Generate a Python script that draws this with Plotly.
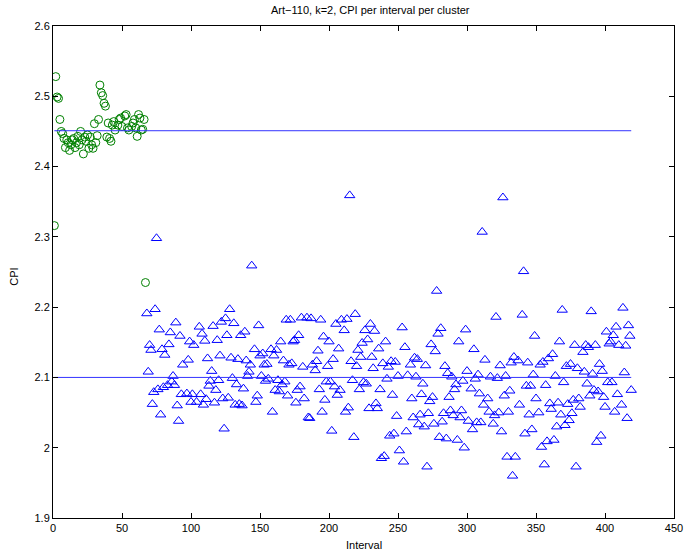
import plotly.graph_objects as go

# Cluster 1 (green circles): interval, CPI
green_interval = [1, 2, 3, 4, 5, 6, 7, 8, 9, 10, 11, 12, 13, 14, 15, 16, 17, 18, 19, 20,
                  21, 22, 23, 24, 25, 26, 27, 28, 29, 30, 31, 32, 33, 34, 35, 36, 37, 38, 39, 40,
                  41, 42, 43, 44, 45, 47, 48, 49, 50, 52, 53, 54, 55, 57, 58, 59, 60, 61, 62, 63,
                  64, 65, 66, 67]
green_cpi = [2.316, 2.528, 2.499, 2.497, 2.467, 2.450, 2.447, 2.440, 2.427, 2.438,
             2.434, 2.423, 2.431, 2.438, 2.440, 2.427, 2.434, 2.443, 2.431, 2.450,
             2.438, 2.418, 2.442, 2.436, 2.445, 2.426, 2.442, 2.431, 2.426, 2.461,
             2.434, 2.444, 2.467, 2.516, 2.505, 2.501, 2.490, 2.486, 2.442, 2.462,
             2.440, 2.436, 2.459, 2.464, 2.452, 2.459, 2.467, 2.469, 2.457, 2.472,
             2.474, 2.455, 2.452, 2.457, 2.462, 2.467, 2.455, 2.443, 2.474, 2.469,
             2.452, 2.453, 2.467, 2.235]

# Cluster 2 (blue triangles): interval, CPI
blue_interval = [
    68, 69, 70, 71, 72, 73, 74, 75, 76, 77, 78, 79, 80, 81, 83, 84, 85, 86, 87, 88,
    89, 90, 91, 92, 93, 94, 97, 98, 99, 100, 101, 102, 104, 106, 107, 108, 109, 110, 111, 112,
    113, 114, 115, 116, 117, 118, 119, 120, 121, 122, 123, 124, 125, 126, 127,
    128, 129, 130, 131, 132, 133, 134, 135, 136, 137, 138, 139, 140, 141, 142, 143, 144, 146, 147, 148,
    149, 150, 151, 152, 153, 154, 155, 156, 158, 159, 160, 161, 162, 163, 164, 165, 166, 167, 168, 169,
    170, 171, 172, 173, 174, 175, 176, 177, 178, 179, 180, 181, 182, 184, 185, 186, 187, 188,
    190, 191, 192, 193, 194, 195, 196, 197, 198, 199, 200, 201, 202, 203, 204, 205, 206, 207, 208, 209,
    211, 212, 213, 214, 215, 216, 217, 218, 219, 220, 221, 222, 223, 224, 225, 226, 227, 228, 229, 230,
    231, 232, 233, 234, 235, 236, 237, 238, 239, 240, 241, 242, 243, 244, 245, 246, 247, 248, 249, 250, 251,
    253, 254, 255, 256, 257, 259, 260, 261, 262, 263, 264, 265, 266, 267, 268, 269, 270, 271, 272, 273,
    274, 275, 276, 277, 278, 279, 280, 281, 282, 283, 284, 285, 286, 287, 288, 289, 290, 291, 292, 293,
    294, 295, 296, 297, 298, 299, 300, 301, 303, 304, 305, 306, 307, 308, 309, 310, 311, 312, 313,
    315, 316, 317, 319, 320, 321, 322, 323, 324, 325, 326, 327, 328, 329, 330, 331, 332, 333, 334, 335,
    337, 338, 340, 341, 342, 343, 344, 345, 346, 347, 348, 349, 350, 352, 353, 354, 355, 356, 357, 358,
    359, 360, 361, 362, 363, 364, 365, 366, 367, 368, 369, 370, 371, 372, 373,
    374, 375, 376, 377, 378, 379, 380, 381, 382, 384, 385, 386, 387, 388, 389, 390, 391, 392, 393, 394,
    395, 396, 397, 398, 399, 400, 401, 402, 403, 404, 405, 406, 407, 408, 409, 410, 412, 413, 414, 415,
    416, 417, 418, 419]
blue_cpi = [
    2.191, 2.108, 2.146, 2.139, 2.062, 2.079, 2.197, 2.298, 2.083, 2.168, 2.047, 2.140, 2.086, 2.132, 2.089, 2.147, 2.164, 2.094, 2.102, 2.089,
    2.178, 2.060, 2.038, 2.159, 2.076, 2.118, 2.077, 2.125, 2.151, 2.065, 2.076, 2.146, 2.065, 2.172, 2.076, 2.162, 2.061, 2.152, 2.069, 2.127,
    2.088, 2.095, 2.109, 2.173, 2.064, 2.082, 2.153, 2.096, 2.131, 2.179, 2.070, 2.027, 2.184, 2.160, 2.071,
    2.197, 2.128, 2.099, 2.177, 2.061, 2.090, 2.126, 2.062, 2.160, 2.060, 2.084, 2.165, 2.124, 2.102, 2.108, 2.118, 2.259, 2.140, 2.065, 2.074,
    2.174, 2.131, 2.102, 2.134, 2.118, 2.095, 2.119, 2.098, 2.140, 2.051, 2.131, 2.082, 2.139, 2.096, 2.080, 2.151, 2.090, 2.124, 2.094, 2.182,
    2.074, 2.118, 2.182, 2.120, 2.151, 2.153, 2.064, 2.082, 2.160, 2.087, 2.185, 2.115, 2.070, 2.185, 2.043, 2.042, 2.184, 2.118,
    2.110, 2.123, 2.138, 2.083, 2.182, 2.051, 2.158, 2.068, 2.094, 2.116, 2.151, 2.094, 2.024, 2.126, 2.087, 2.176, 2.075, 2.141, 2.082, 2.182,
    2.167, 2.051, 2.183, 2.057, 2.359, 2.123, 2.096, 2.015, 2.190, 2.116, 2.139, 2.083, 2.129, 2.149, 2.093, 2.167, 2.091, 2.154, 2.056, 2.176,
    2.129, 2.113, 2.166, 2.063, 2.056, 2.141, 2.083, 1.985, 2.120, 1.988, 2.151, 2.098, 2.115, 2.017, 2.123, 2.075, 2.020, 2.122, 2.045, 2.102, 1.996,
    2.171, 1.980, 2.143, 2.023, 2.103, 2.118, 2.070, 2.043, 2.128, 2.101, 2.126, 2.033, 2.047, 2.076, 2.091, 2.030, 2.117, 1.973, 2.049, 2.066,
    2.147, 2.072, 2.034, 2.137, 2.223, 2.162, 2.015, 2.170, 2.037, 2.049, 2.116, 2.013, 2.106, 2.072, 2.053, 2.101, 2.046, 2.083, 2.090, 2.011,
    2.151, 2.043, 2.053, 2.095, 2.000, 2.168, 2.109, 2.038, 2.084, 2.026, 2.140, 2.098, 2.036, 2.104, 2.077, 2.036, 2.307, 2.061, 2.125,
    2.070, 2.051, 2.101, 2.034, 2.046, 2.186, 2.099, 2.050, 2.117, 2.023, 2.356, 2.074, 2.102, 1.987, 2.051, 2.081, 2.121, 1.960, 2.129, 1.987,
    2.124, 2.061, 2.189, 2.251, 2.020, 2.088, 2.121, 2.047, 2.088, 2.026, 2.104, 2.159, 2.070, 2.050, 2.118, 2.001, 2.122, 1.976, 2.089, 2.009,
    2.127, 2.063, 2.055, 2.133, 2.011, 2.102, 2.030, 2.064, 2.151, 2.047, 2.196, 2.093, 2.032, 2.116, 2.062,
    2.039, 2.119, 2.049, 2.068, 2.146, 1.973, 2.113, 2.070, 2.058, 2.136, 2.108, 2.146, 2.091, 2.143, 2.074, 2.194, 2.105, 2.082, 2.146, 2.008,
    2.080, 2.119, 2.017, 2.109, 2.072, 2.058, 2.165, 2.093, 2.148, 2.151, 2.093, 2.160, 2.051, 2.172, 2.076, 2.146, 2.061, 2.199, 2.107, 2.145,
    2.042, 2.174, 2.159, 2.082]

# Cluster centroids (horizontal lines spanning all intervals)
centroid_cpi = [2.451, 2.100]
line_span = [1, 419]

x_ticks = [0, 50, 100, 150, 200, 250, 300, 350, 400, 450]
y_ticks = [1.9, 2.0, 2.1, 2.2, 2.3, 2.4, 2.5, 2.6]
y_tick_text = ["1.9", "2", "2.1", "2.2", "2.3", "2.4", "2.5", "2.6"]

FONT = "Liberation Sans, Arial, Helvetica, sans-serif"
BLUE = "#0000FF"
LINE_BLUE = "#3333FF"
GREEN = "#008000"

fig = go.Figure()
fig.add_trace(go.Scatter(
    x=green_interval, y=green_cpi, mode="markers",
    marker=dict(symbol="circle-open", size=8, color=GREEN, line=dict(width=1, color=GREEN)),
    showlegend=False, hoverinfo="skip"))
fig.add_trace(go.Scatter(
    x=blue_interval, y=blue_cpi, mode="markers",
    marker=dict(symbol="triangle-up-open", size=9, color=BLUE, line=dict(width=1, color=BLUE)),
    showlegend=False, hoverinfo="skip"))
for c in centroid_cpi:
    fig.add_trace(go.Scatter(
        x=line_span, y=[c, c], mode="lines",
        line=dict(color=LINE_BLUE, width=1), showlegend=False, hoverinfo="skip"))

axis_common = dict(
    showgrid=False, zeroline=False, showline=True, linecolor="black", linewidth=1,
    mirror="allticks", ticks="inside", ticklen=5, tickwidth=1, tickcolor="black",
    automargin=False, showspikes=False,
    tickfont=dict(family=FONT, size=11, color="black"))

fig.update_xaxes(range=[0, 450], tickvals=x_ticks, ticktext=[str(t) for t in x_ticks], **axis_common)
fig.update_yaxes(range=[1.9, 2.6], tickvals=y_ticks, ticktext=y_tick_text, **axis_common)

fig.update_layout(
    width=686, height=552,
    margin=dict(l=53, r=12, t=26, b=34),
    paper_bgcolor="white", plot_bgcolor="white",
    hovermode=False,
    font=dict(family=FONT, size=11, color="black"),
    annotations=[
        dict(text="Art\u2212110, k=2, CPI per interval per cluster", xref="paper", yref="paper",
             x=0.5105, y=1.033, xanchor="center", yanchor="middle", showarrow=False,
             font=dict(family=FONT, size=11, color="black")),
        dict(text="Interval", xref="paper", yref="paper", x=0.5008, y=-0.055,
             xanchor="center", yanchor="middle", showarrow=False,
             font=dict(family=FONT, size=11, color="black")),
        dict(text="CPI", xref="paper", yref="paper", x=-0.063, y=0.49,
             xanchor="center", yanchor="middle", showarrow=False, textangle=-90,
             font=dict(family=FONT, size=11, color="black")),
    ],
)

fig.write_html(
    "out.html",
    config={"displayModeBar": False, "staticPlot": True},
    post_script="document.body.style.margin='0';document.body.style.overflow='hidden';",
)
